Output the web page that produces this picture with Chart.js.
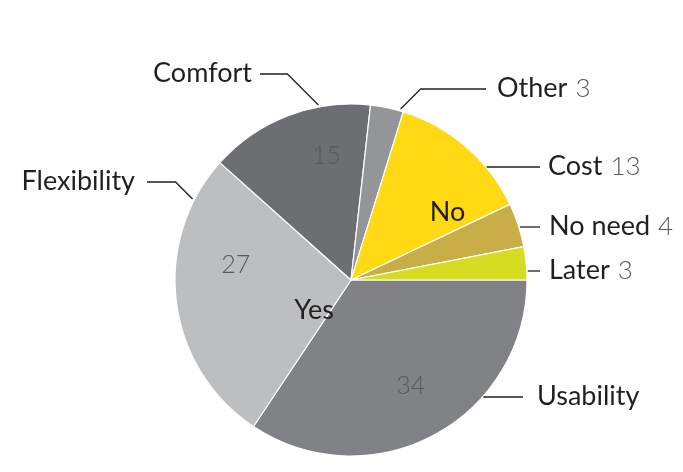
<!DOCTYPE html>
<html>
<head>
<meta charset="utf-8">
<title>Reasons</title>
<script src="https://cdn.jsdelivr.net/npm/chart.js@4.4.1/dist/chart.umd.min.js"></script>
<style>
  html,body{margin:0;padding:0;background:#fff;}
  #wrap{width:683px;height:472px;}
</style>
</head>
<body>
<div id="wrap"><canvas id="pie" width="683" height="472"></canvas></div>
<script>
// answers, clockwise from 3 o'clock
const reasons = ['Usability', 'Flexibility', 'Comfort', 'Other', 'Cost', 'No need', 'Later'];
const counts  = [34, 27, 15, 3, 13, 4, 3];
const answer  = ['Yes', 'Yes', 'Yes', 'Yes', 'No', 'No', 'No'];
const groups  = ['Yes', 'No'];

const sliceColours = ['#808285', '#bcbec0', '#6d6e71', '#939598', '#ffd914', '#c9ae48', '#d5dc22'];
const INK = '#231f20', GREY = '#58595b';
const FONT = 'Lato, "Open Sans", sans-serif';

// label placement per reason
//  row: y of the leader line, flat = straight in from the rim, knee = 45deg off the rim then flat
//  f: where along the slice the leader (or inner number) sits, r: fraction of radius
const callouts = {
  'Usability':   {kind:'flat', row:397, lineEnd:523, textX:537, side:'right', inner:{f:0.49, r:0.69}},
  'Flexibility': {kind:'knee', row:182, f:0.85, lineEnd:147, textX:135, side:'left', inner:{f:0.65, r:0.66}},
  'Comfort':     {kind:'knee', row:74,  f:0.69, lineEnd:260, textX:252, side:'left', inner:{f:0.68, r:0.72}},
  'Other':       {kind:'knee', row:89,  f:0.9,  lineEnd:486, textX:497, side:'right'},
  'Cost':        {kind:'flat', row:167, lineEnd:540, textX:548, side:'right'},
  'No need':     {kind:'flat', row:227, lineEnd:540, textX:549, side:'right'},
  'Later':       {kind:'flat', row:271, lineEnd:540, textX:549, side:'right'}
};
const groupSpots = {Yes:{deg:141, r:0.27}, No:{deg:325, r:0.67}};

const calloutPlugin = {
  id: 'callouts',
  afterDatasetsDraw(chart) {
    const ctx = chart.ctx;
    const arcs = chart.getDatasetMeta(0).data;
    ctx.save();
    ctx.strokeStyle = INK;
    ctx.lineWidth = 1.3;
    arcs.forEach((arc, i) => {
      const name = reasons[i];
      const c = callouts[name];
      const {x: cx, y: cy, startAngle: a0, endAngle: a1, outerRadius: R} = arc;

      // leader line
      ctx.beginPath();
      if (c.kind === 'flat') {
        const t = Math.asin((c.row - cy) / R);
        ctx.moveTo(cx + (R + 1) * Math.cos(t), c.row);
      } else {
        const t = a0 + c.f * (a1 - a0);
        const px = cx + (R + 2) * Math.cos(t), py = cy + (R + 2) * Math.sin(t);
        const dy = py - c.row;
        const kx = c.side === 'left' ? px - dy : px + dy;
        ctx.moveTo(px, py);
        ctx.lineTo(kx, c.row);
      }
      ctx.lineTo(c.lineEnd, c.row);
      ctx.stroke();

      // name (and count when it sits outside)
      ctx.textBaseline = 'alphabetic';
      ctx.font = '400 27px ' + FONT;
      ctx.fillStyle = INK;
      const base = c.row + 8;
      if (c.side === 'left') {
        ctx.textAlign = 'right';
        ctx.fillText(name, c.textX, base);
      } else {
        ctx.textAlign = 'left';
        ctx.fillText(name, c.textX, base);
        if (!c.inner) {
          const w = ctx.measureText(name).width;
          ctx.font = '300 26px ' + FONT;
          ctx.fillStyle = GREY;
          ctx.fillText(String(counts[i]), c.textX + w + 8, base);
        }
      }

      // count inside the slice
      if (c.inner) {
        const t = a0 + c.inner.f * (a1 - a0);
        ctx.font = '300 25px ' + FONT;
        ctx.fillStyle = GREY;
        ctx.textAlign = 'center';
        ctx.textBaseline = 'middle';
        ctx.fillText(String(counts[i]), cx + c.inner.r * R * Math.cos(t), cy + c.inner.r * R * Math.sin(t));
      }
    });

    // Yes / No group names
    const {x: cx, y: cy, outerRadius: R} = arcs[0];
    ctx.font = '400 27px ' + FONT;
    ctx.fillStyle = INK;
    ctx.textAlign = 'center';
    ctx.textBaseline = 'middle';
    groups.forEach(g => {
      const s = groupSpots[g], t = s.deg * Math.PI / 180;
      ctx.fillText(g, cx + s.r * R * Math.cos(t), cy + s.r * R * Math.sin(t));
    });
    ctx.restore();
  }
};

new Chart(document.getElementById('pie'), {
  type: 'pie',
  data: {
    labels: reasons,
    datasets: [{
      data: counts,
      backgroundColor: sliceColours,
      borderColor: '#ffffff',
      borderWidth: 1.2,
      hoverOffset: 0,
      radius: 176
    }]
  },
  options: {
    responsive: false,
    animation: false,
    events: [],
    rotation: 90,
    layout: {padding: {left: 169, right: 150, top: 104, bottom: 16}},
    plugins: {legend: {display: false}, tooltip: {enabled: false}}
  },
  plugins: [calloutPlugin]
});
</script>
</body>
</html>
